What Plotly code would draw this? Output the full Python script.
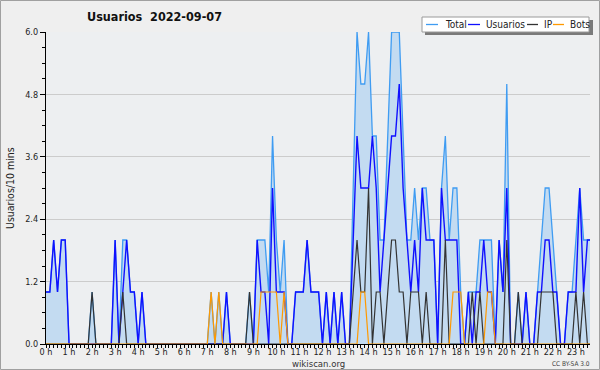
import plotly.graph_objects as go

# ---- data: 144 ten-minute slots (index 0 = 00:00) ----
USUARIOS = [1,1,2,1,2,2,0,0,0,0,0,0, 0,0,0,0,0,0,2,0,1,2,1,1, 0,1,0,0,0,0,0,0,0,0,0,0,
            0,0,0,0,0,0,0,0,0,0,0,1, 0,0,0,0,0,0,0,2,1,1,0,3, 1,1,1,0,0,1,1,1,2,1,1,1,
            0,1,0,1,0,1,0,0,2,4,3,3, 3,4,3,1,2,3,4,4,5,3,2,1, 2,1,3,2,2,2,0,3,2,2,2,2,
            0,0,1,0,1,1,2,1,1,0,2,1, 3,0,0,0,0,1,0,0,1,1,2,2, 1,1,0,0,1,1,1,3,1,2,2,1]
IP       = [0,0,0,0,0,0,0,0,0,0,0,0, 1,0,0,0,0,0,0,0,1,0,0,0, 0,0,0,0,0,0,0,0,0,0,0,0,
            0,0,0,0,0,0,0,0,0,0,0,0, 0,0,0,0,0,1,0,0,0,0,0,0, 0,0,0,0,0,0,0,0,0,0,0,0,
            0,0,0,0,0,0,0,0,1,2,1,1, 3,0,1,1,0,1,2,2,1,1,0,1, 1,1,0,1,0,0,0,0,2,0,0,0,
            0,0,0,1,0,1,0,0,0,0,0,0, 2,0,0,1,0,0,0,0,0,1,1,1, 1,0,0,0,0,0,1,0,1,0,0,0]
BOTS     = [0,0,0,0,0,0,0,0,0,0,0,0, 0,0,0,0,0,0,0,0,0,0,0,0, 0,0,0,0,0,0,0,0,0,0,0,0,
            0,0,0,0,0,0,0,1,0,1,0,0, 0,0,0,0,0,0,0,0,1,1,1,1, 1,0,1,0,0,0,0,0,0,0,0,0,
            0,0,0,0,0,0,0,0,0,0,1,1, 0,0,0,0,0,0,0,0,0,0,0,0, 0,0,0,0,0,0,0,0,0,0,1,1,
            1,0,0,0,0,0,0,1,1,0,0,0, 0,0,0,0,0,0,0,0,0,0,0,0, 0,0,0,0,0,0,0,0,0,0,0,0]
TOTAL    = [1,1,2,1,2,2,0,0,0,0,0,0, 1,0,0,0,0,0,2,0,2,2,1,1, 0,1,0,0,0,0,0,0,0,0,0,0,
            0,0,0,0,0,0,0,1,0,1,0,1, 0,0,0,0,0,1,0,2,2,2,1,4, 2,1,2,0,0,1,1,1,2,1,1,1,
            0,1,0,1,0,1,0,0,3,6,5,5, 6,4,4,2,2,4,6,6,6,4,2,2, 3,2,3,3,2,2,0,3,4,2,3,3,
            1,0,1,1,1,2,2,2,2,0,2,1, 5,0,0,1,0,1,0,0,1,2,3,3, 2,1,0,0,1,1,2,3,2,2,2,1]
SLOTS = list(range(len(TOTAL)))
HOUR_LABELS = [f"{h} h" for h in range(24)]
HOUR_SLOTS = [h * 6 for h in range(24)]
Y_TICKS = [0, 1.2, 2.4, 3.6, 4.8, 6.0]

W, H = 600, 370
ML, MR, MT, MB = 46, 10, 32, 26
PW, PH = W - ML - MR, H - MT - MB

def px(x):
    return (x - ML) / PW

def py(y):
    return (H - MB - y) / PH

FONT = "DejaVu Sans Condensed, DejaVu Sans, sans-serif"
C_TOTAL, C_FILL = "#3f9cf2", "#c3dbf1"
C_USU, C_IP, C_BOTS = "#1010ff", "#333333", "#ff9900"

fig = go.Figure()
fig.add_trace(go.Scatter(x=SLOTS, y=TOTAL, mode="lines", name="Total",
                         line=dict(color=C_TOTAL, width=1.3), fill="tozeroy", fillcolor=C_FILL))
fig.add_trace(go.Scatter(x=SLOTS, y=USUARIOS, mode="lines", name="Usuarios",
                         line=dict(color=C_USU, width=1.4)))
fig.add_trace(go.Scatter(x=SLOTS, y=IP, mode="lines", name="IP",
                         line=dict(color=C_IP, width=1.2)))
fig.add_trace(go.Scatter(x=SLOTS, y=BOTS, mode="lines", name="Bots",
                         line=dict(color=C_BOTS, width=1.2)))

fig.update_layout(
    width=W, height=H, showlegend=False,
    margin=dict(l=ML, r=MR, t=MT, b=MB, pad=0),
    paper_bgcolor="#efefef", plot_bgcolor="#edeff1",
    font=dict(family=FONT, size=9, color="#222"),
    xaxis=dict(range=[0, 141.67], tickvals=HOUR_SLOTS, ticktext=HOUR_LABELS,
               showgrid=False, zeroline=False, showline=True, linecolor="black", linewidth=1.2,
               ticks="outside", ticklen=3, tickcolor="black", tickwidth=1,
               ticklabelstandoff=-4,
               tickfont=dict(size=9, color="#222"),
               minor=dict(dtick=1, tick0=0, ticks="outside", ticklen=3, tickcolor="black", showgrid=False)),
    yaxis=dict(range=[0, 6.0], tickvals=Y_TICKS, ticktext=[f"{v:.1f}" for v in Y_TICKS],
               showgrid=True, gridcolor="#cccccc", gridwidth=1, zeroline=False,
               showline=True, linecolor="black", linewidth=1.2,
               ticks="outside", ticklen=5, tickcolor="black",
               tickfont=dict(size=9, color="#222"),
               minor=dict(dtick=0.3, tick0=0, ticks="outside", ticklen=3, tickcolor="black", showgrid=False)),
)

ann = [
    dict(text="<b>Usuarios\u00a0 2022-09-07</b>", x=px(85), y=py(17), xanchor="left", yanchor="middle",
         font=dict(size=12.5, color="#111", family=FONT)),
    dict(text="Usuarios/10 mins", x=px(10), y=py(188), textangle=-90, xanchor="center", yanchor="middle",
         font=dict(size=10.5, color="#222", family=FONT)),
    dict(text="wikiscan.org", x=px(318), y=py(363), xanchor="center", yanchor="middle",
         font=dict(size=9.5, color="#333", family=FONT)),
    dict(text="CC BY-SA 3.0", x=px(571), y=py(364), xanchor="center", yanchor="middle",
         font=dict(size=6.5, color="#444", family=FONT)),
]
shapes = [
    # outer frame
    dict(type="rect", xref="paper", yref="paper", x0=px(0.5), x1=px(599.5), y0=py(369.5), y1=py(0.5),
         line=dict(color="#a0a0a0", width=1), fillcolor="rgba(0,0,0,0)", layer="above"),
    # legend shadow + box
    dict(type="rect", xref="paper", yref="paper", x0=px(425), x1=px(593), y0=py(35), y1=py(20),
         line=dict(width=0), fillcolor="#7a7a7a", layer="above"),
    dict(type="rect", xref="paper", yref="paper", x0=px(422), x1=px(589), y0=py(32), y1=py(17),
         line=dict(color="#9a9a9a", width=1), fillcolor="#ffffff", layer="above"),
]
legend_items = [("Total", C_TOTAL, 426, 438, 443), ("Usuarios", C_USU, 468, 480, 484),
                ("IP", C_IP, 527, 538, 542), ("Bots", C_BOTS, 553, 564, 568)]
for name, col, x0, x1, tx in legend_items:
    shapes.append(dict(type="line", xref="paper", yref="paper", x0=px(x0), x1=px(x1), y0=py(24.5), y1=py(24.5),
                       line=dict(color=col, width=1.3), layer="above"))
    ann.append(dict(text=name, x=px(tx), y=py(24.5), xanchor="left", yanchor="middle",
                    font=dict(size=10, color="#222", family=FONT)))

fig.update_layout(annotations=[dict(a, xref="paper", yref="paper", showarrow=False) for a in ann],
                  shapes=shapes)
fig.write_html("out.html", config={"displayModeBar": False})

# remove the default page margin so the figure sits at the window's top-left corner
with open("out.html", encoding="utf-8") as f:
    page = f.read()
page = page.replace("<head>", "<head><style>html,body{margin:0;padding:0;overflow:hidden;}</style>", 1)
with open("out.html", "w", encoding="utf-8") as f:
    f.write(page)
